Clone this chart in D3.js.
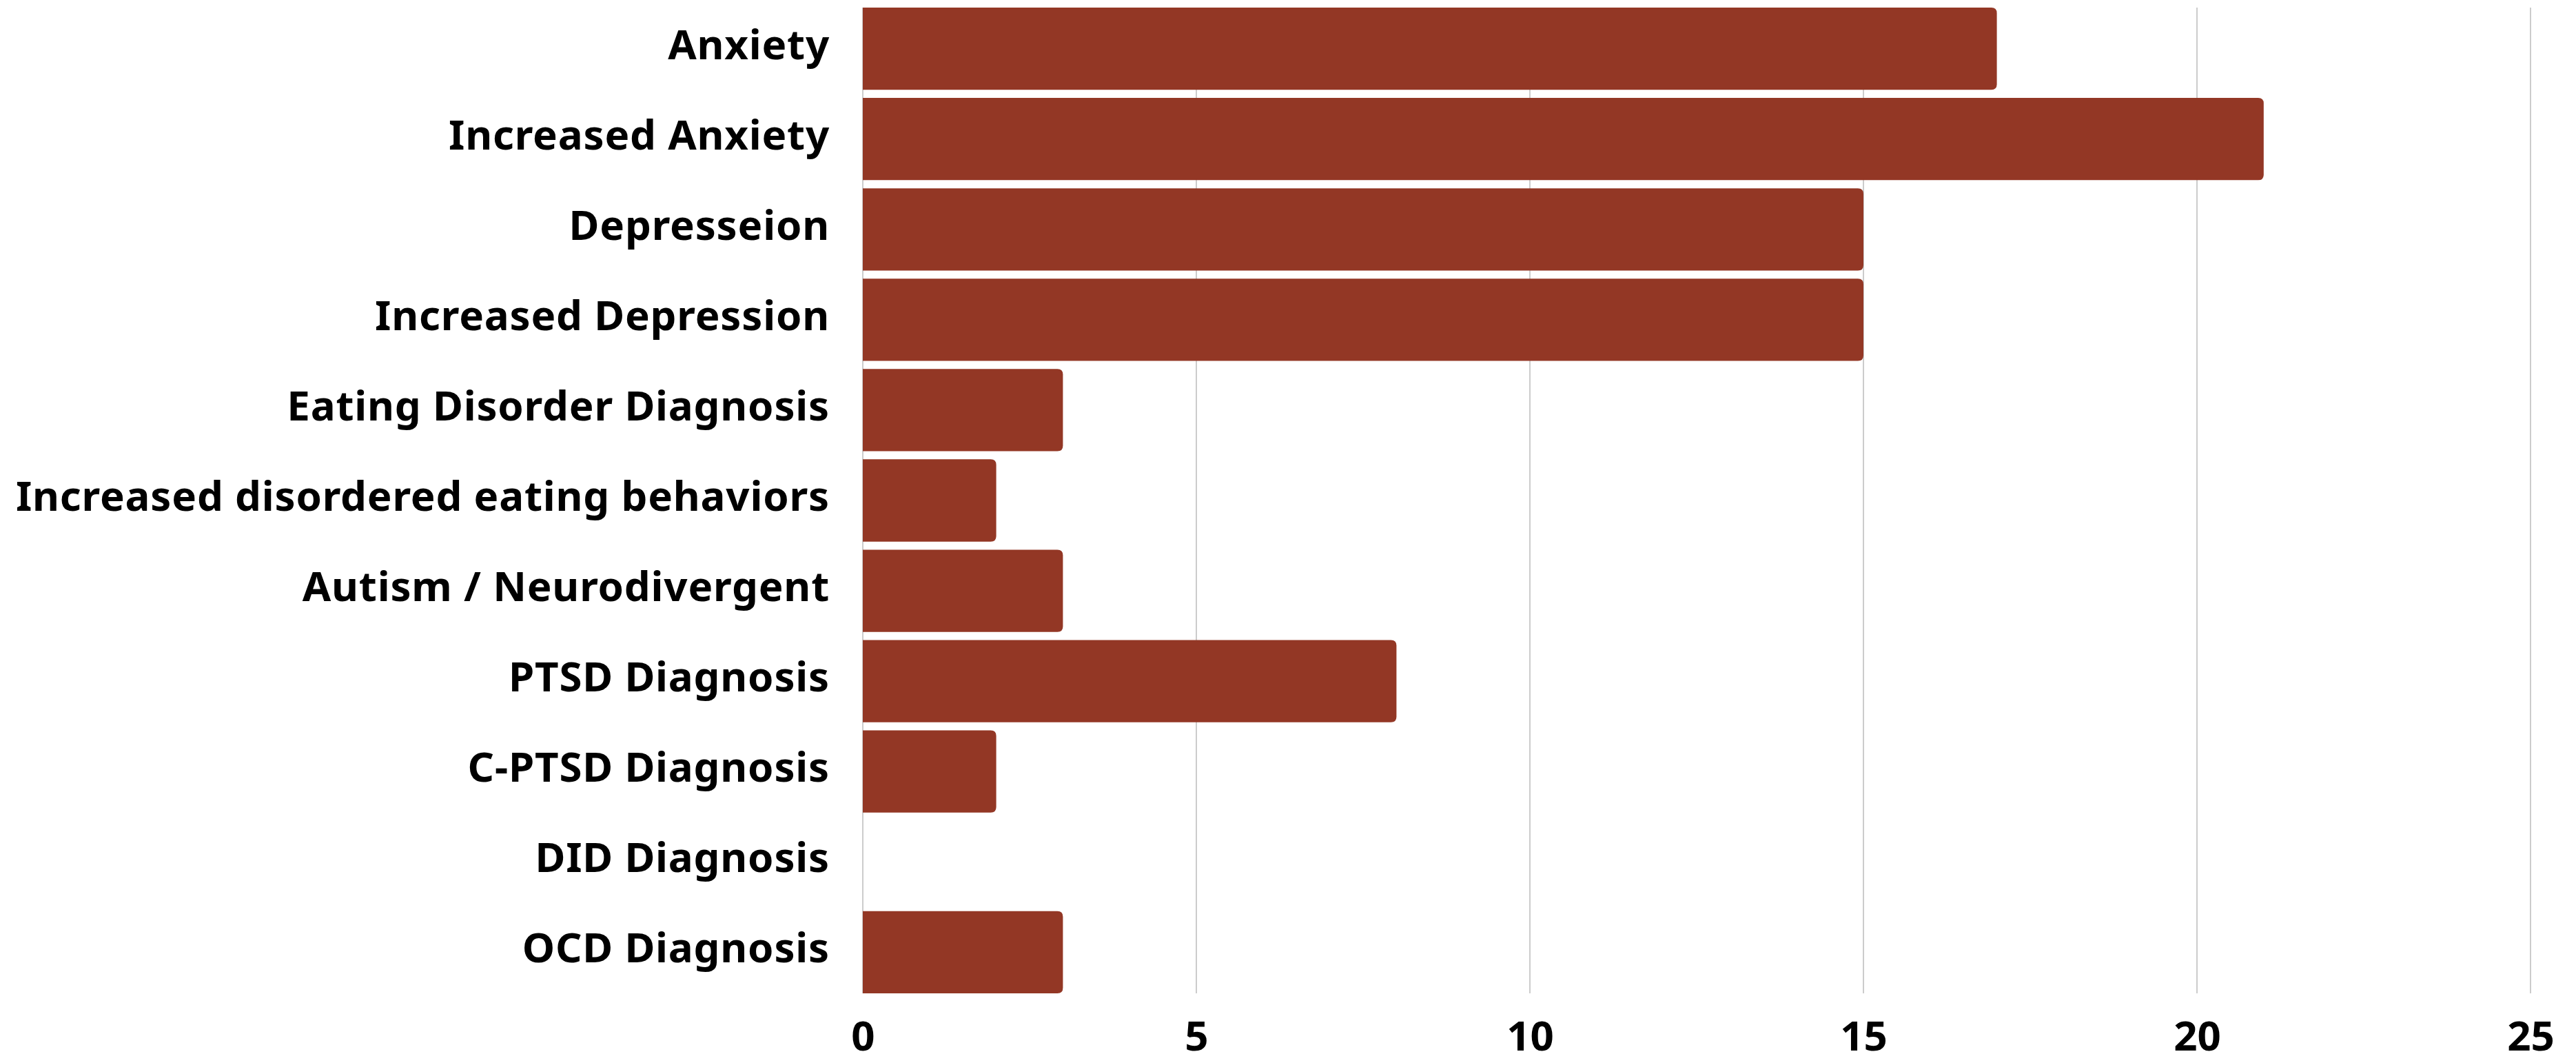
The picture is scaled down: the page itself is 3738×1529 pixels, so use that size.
<!DOCTYPE html>
<html>
<head>
<meta charset="utf-8">
<script src="https://cdn.jsdelivr.net/npm/d3@7"></script>
<style>
  body { margin: 0; background: #fff; }
  text { font-family: "Noto Sans", "Lato", sans-serif; font-weight: 700; fill: #000; }
</style>
</head>
<body>
<svg id="chart"></svg>
<script>
var categories = ["Anxiety", "Increased Anxiety", "Depresseion", "Increased Depression",
                  "Eating Disorder Diagnosis", "Increased disordered eating behaviors",
                  "Autism / Neurodivergent", "PTSD Diagnosis", "C-PTSD Diagnosis",
                  "DID Diagnosis", "OCD Diagnosis"];
var counts = [17, 21, 15, 15, 3, 2, 3, 8, 2, 0, 3];
var xTicks = [0, 5, 10, 15, 20, 25];

var width = 3738, height = 1529;
var margin = {"left": 1252, "right": 66, "top": 11, "bottom": 88};
var barColor = "#933725";
var radius = 8;

var rows = categories.map(function(c, i) { return {name: c, value: counts[i]}; });

var svg = d3.select("#chart").attr("width", width).attr("height", height);

var x = d3.scaleLinear()
          .domain([0, 25])
          .range([margin.left, width - margin.right]);

var y = d3.scaleBand()
          .domain(categories)
          .range([margin.top, height - margin.bottom])
          .paddingInner(0.09)
          .paddingOuter(0);

// grid lines
svg.append("g").selectAll("line")
   .data(xTicks)
   .enter().append("line")
   .attr("x1", function(d) { return x(d); })
   .attr("x2", function(d) { return x(d); })
   .attr("y1", margin.top)
   .attr("y2", height - margin.bottom)
   .attr("stroke", "#cccccc")
   .attr("stroke-width", 2);

// bars, square on the left, rounded on the right
function barPath(d)
{
  var x0 = x(0), x1 = x(d.value), y0 = y(d.name), h = y.bandwidth();
  var r = Math.min(radius, (x1 - x0) / 2);
  return "M" + x0 + "," + y0 +
         "H" + (x1 - r) +
         "Q" + x1 + "," + y0 + " " + x1 + "," + (y0 + r) +
         "V" + (y0 + h - r) +
         "Q" + x1 + "," + (y0 + h) + " " + (x1 - r) + "," + (y0 + h) +
         "H" + x0 + "Z";
}

svg.append("g").selectAll("path")
   .data(rows.filter(function(d) { return d.value > 0; }))
   .enter().append("path")
   .attr("d", barPath)
   .attr("fill", barColor);

// category labels
svg.append("g").selectAll("text")
   .data(categories)
   .enter().append("text")
   .attr("x", margin.left - 48)
   .attr("y", function(d) { return y(d) + y.bandwidth() / 2 + 15; })
   .attr("text-anchor", "end")
   .style("font-size", "60px")
   .style("letter-spacing", "0.8px")
   .text(function(d) { return d; });

// x axis labels
var xAxis = d3.axisBottom(x).tickValues(xTicks).tickSize(0).tickPadding(0);
var ax = svg.append("g")
            .attr("transform", "translate(0," + (height - margin.bottom) + ")")
            .call(xAxis);
ax.select(".domain").remove();
ax.selectAll("text")
  .attr("y", 83)
  .attr("dy", 0)
  .style("font-size", "60px")
  .style("font-family", "'Noto Sans', Lato, sans-serif")
  .style("font-weight", 700)
  .attr("fill", "#000");
</script>
</body>
</html>
